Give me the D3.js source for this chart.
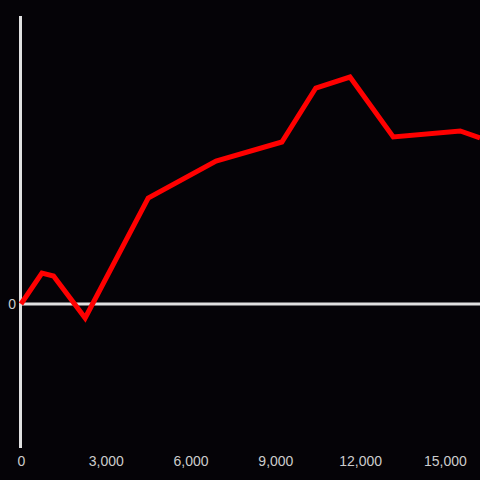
<!DOCTYPE html>
<head>
  <meta charset="utf-8" />
  <script src="https://d3js.org/d3.v7.min.js"></script>
  <style>
    body { margin: 0; background: #050307; }
    svg { display: block; background-color: #050307; }
    .tick text { font-family: "Liberation Sans", Arial, sans-serif; }
  </style>
</head>
<body>
  <svg width="480" height="480"></svg>
  <script>
    // values
    var xValues = [0, 740, 1150, 2270, 4500, 6900, 9230, 10430, 11640, 13170, 15540, 16240];
    var yValues = [0, 31, 28, -14, 106, 143, 162, 216, 227, 167, 173, 166];
    var xTicks = [0, 3000, 6000, 9000, 12000, 15000];

    var svg = d3.select("svg");
    var width = 480, height = 480;

    var x = d3.scaleLinear().domain([0, 16240]).range([21, 480]);
    var y = d3.scaleLinear().domain([-144, 288]).range([448, 16]);

    // y axis line
    svg.append("line")
      .attr("x1", 20.5).attr("x2", 20.5)
      .attr("y1", y(288)).attr("y2", y(-144))
      .attr("stroke", "#e0e0e0")
      .attr("stroke-width", 3);

    // zero line
    svg.append("line")
      .attr("x1", 19).attr("x2", width)
      .attr("y1", y(0)).attr("y2", y(0))
      .attr("stroke", "#e0e0e0")
      .attr("stroke-width", 3);

    svg.append("text")
      .attr("x", 16).attr("y", y(0) + 5)
      .attr("text-anchor", "end")
      .attr("fill", "#cccccc")
      .style("font-family", "Liberation Sans, Arial, sans-serif")
      .style("font-size", "14px")
      .text("0");

    var xAxis = d3.axisBottom(x)
      .tickValues(xTicks)
      .tickSize(0)
      .tickPadding(0)
      .tickFormat(d3.format(","));

    var gx = svg.append("g")
      .attr("transform", "translate(0,456)")
      .call(xAxis);
    gx.select(".domain").remove();
    gx.selectAll("text")
      .attr("fill", "#cccccc")
      .style("font-size", "14px");

    var data = xValues.map(function (d, i) {
      return { x: d, y: yValues[i] };
    });

    var line = d3.line()
      .x(function (d) { return x(d.x); })
      .y(function (d) { return y(d.y); });

    svg.append("path")
      .datum(data)
      .attr("fill", "none")
      .attr("stroke", "#ff0000")
      .attr("stroke-width", 5)
      .attr("d", line);
  </script>
</body>
